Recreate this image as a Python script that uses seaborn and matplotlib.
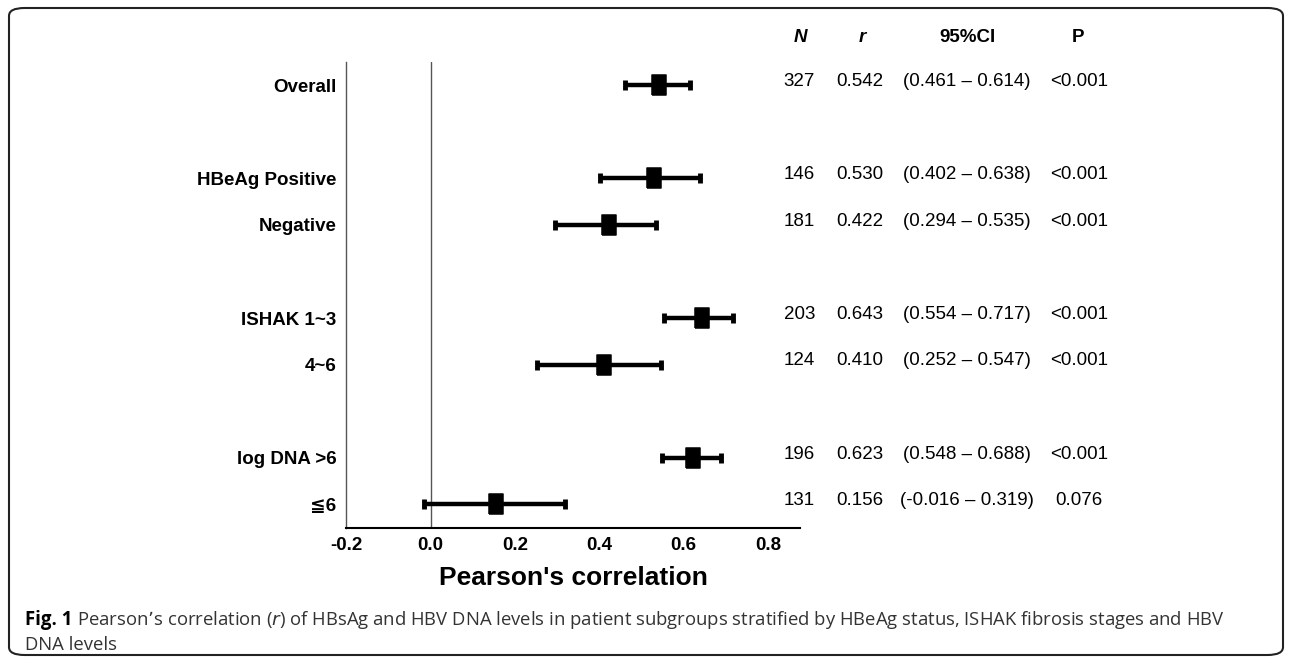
import matplotlib
matplotlib.use("Agg")
import matplotlib.pyplot as plt
import matplotlib.transforms as mtransforms
from matplotlib.patches import FancyBboxPatch
import pandas as pd
import seaborn as sns

# data
groups = ["Overall", "HBeAg Positive", "Negative", "ISHAK 1~3", "4~6", "log DNA >6", "\u22666"]
row_pos = [0, 2, 3, 5, 6, 8, 9]
n_vals = [327, 146, 181, 203, 124, 196, 131]
r_vals = [0.542, 0.530, 0.422, 0.643, 0.410, 0.623, 0.156]
ci_low = [0.461, 0.402, 0.294, 0.554, 0.252, 0.548, -0.016]
ci_high = [0.614, 0.638, 0.535, 0.717, 0.547, 0.688, 0.319]
p_vals = ["<0.001", "<0.001", "<0.001", "<0.001", "<0.001", "<0.001", "0.076"]
x_ticks = [-0.2, 0.0, 0.2, 0.4, 0.6, 0.8]

df = pd.DataFrame({"group": groups, "pos": row_pos, "N": n_vals, "r": r_vals,
                   "lo": ci_low, "hi": ci_high, "P": p_vals})

sns.set_style("white")
plt.rcParams["font.family"] = ["Liberation Sans", "DejaVu Sans"]
plt.rcParams["text.color"] = "black"
plt.rcParams["xtick.color"] = "black"
plt.rcParams["ytick.color"] = "black"
plt.rcParams["axes.labelcolor"] = "black"

fig = plt.figure(figsize=(12.92, 6.58), dpi=100)
ax = fig.add_axes([0.268, 0.198, 0.351, 0.708])

# CI bars with end caps
ax.errorbar(df["r"], df["pos"],
            xerr=[df["r"] - df["lo"], df["hi"] - df["r"]],
            fmt="none", ecolor="black", elinewidth=3.2, capsize=3.5, capthick=3.5)
tall_square = [(-0.7, -1), (0.7, -1), (0.7, 1), (-0.7, 1), (-0.7, -1)]
sns.scatterplot(data=df, x="r", y="pos", marker=tall_square, s=190, color="black",
                edgecolor="black", ax=ax, zorder=3)
ax.axvline(0, color="#555555", lw=1, zorder=0)

ax.set_xlim(-0.2, 0.875)
ax.set_ylim(9.5, -0.5)
ax.set_xticks(x_ticks)
ax.set_xticklabels([f"{t:.1f}" for t in x_ticks], fontsize=13.5, fontweight="bold")
ax.set_yticks(df["pos"])
ax.set_yticklabels(df["group"], fontsize=13.5, fontweight="bold")
ax.tick_params(axis="x", direction="in", length=6, width=1, color="#888888", pad=7)
ax.tick_params(axis="y", length=0, pad=7)
ax.set_xlabel("Pearson's correlation", fontsize=19, fontweight="bold", labelpad=8)
ax.set_ylabel("")
sns.despine(ax=ax, top=True, right=True)
ax.spines["left"].set_color("#555555")
ax.spines["left"].set_linewidth(1)
ax.spines["bottom"].set_color("black")
ax.spines["bottom"].set_linewidth(1.5)

# side table
tr = mtransforms.blended_transform_factory(fig.transFigure, ax.transData)
col_x = [815 / 1292, 860 / 1292, 967 / 1292, 1079 / 1292]
for _, row in df.iterrows():
    y = row["pos"] - 0.08
    ax.text(col_x[0], y, str(row["N"]), transform=tr, ha="right", va="center", fontsize=13.5)
    ax.text(col_x[1], y, f"{row['r']:.3f}", transform=tr, ha="center", va="center", fontsize=13.5)
    ax.text(col_x[2], y, f"({row['lo']:.3f} \u2013 {row['hi']:.3f})", transform=tr,
            ha="center", va="center", fontsize=13.5)
    ax.text(col_x[3], y, row["P"], transform=tr, ha="center", va="center", fontsize=13.5)

hy = 1 - 37 / 658
fig.text(800 / 1292, hy, "N", ha="center", va="center", fontsize=13.5, fontweight="bold", style="italic")
fig.text(862 / 1292, hy, "r", ha="center", va="center", fontsize=13.5, fontweight="bold", style="italic")
fig.text(967 / 1292, hy, "95%CI", ha="center", va="center", fontsize=13.5, fontweight="bold")
fig.text(1078 / 1292, hy, "P", ha="center", va="center", fontsize=13.5, fontweight="bold")

# caption
cap_font = ["Open Sans", "DejaVu Sans"]
t1 = fig.text(25 / 1292, 1 - 620 / 658, "Fig. 1", ha="left", va="center", fontsize=13.4,
              fontweight="bold", family=cap_font)
fig.canvas.draw()
bb = t1.get_window_extent()
fig.text((bb.x1 + 5) / 1292, 1 - 620 / 658,
         "Pearson\u2019s correlation ($\\it{r}$) of HBsAg and HBV DNA levels in patient subgroups "
         "stratified by HBeAg status, ISHAK fibrosis stages and HBV",
         ha="left", va="center", fontsize=13.3, family=cap_font, color="#333333")
fig.text(25 / 1292, 1 - 645 / 658, "DNA levels", ha="left", va="center", fontsize=13.3,
         family=cap_font, color="#333333")

# rounded frame around figure
frame = FancyBboxPatch((9 / 1292, 3 / 658), 1274 / 1292, 647 / 658,
                       boxstyle="round,pad=0,rounding_size=0.012",
                       transform=fig.transFigure, fill=False, edgecolor="#222222",
                       linewidth=1.5, clip_on=False)
fig.patches.append(frame)

fig.savefig("out.png", dpi=100)
plt.close(fig)
